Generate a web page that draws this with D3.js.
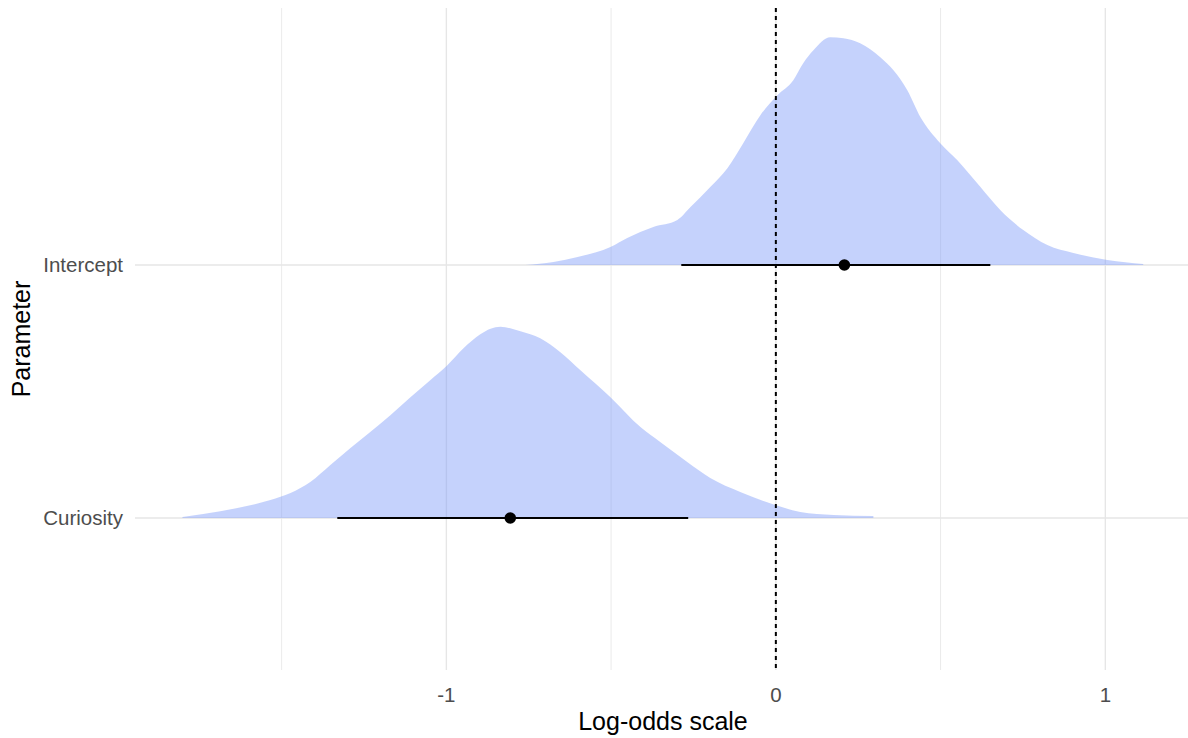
<!DOCTYPE html>
<meta charset="utf-8">
<html>
    <head>
        <style>
            html, body {
                margin: 0;
                padding: 0;
                background: #fff;
            }

            svg {
                display: block;
                font-family: "Liberation Sans", Arial, sans-serif;
            }

            .grid-major {
                stroke: #e6e6e6;
                stroke-width: 1.4;
            }

            .grid-minor {
                stroke: #e8e8e8;
                stroke-width: 0.9;
            }

            .tick-label {
                fill: #4d4d4d;
                font-size: 20.5px;
            }

            .axis-title {
                fill: #000;
                font-size: 25px;
            }

            .density {
                fill: #7f9cf9;
                fill-opacity: 0.45;
            }
        </style>
    </head>
    <body>
        <svg width="1188" height="738"></svg>

        <script src="https://cdn.jsdelivr.net/npm/d3@7"></script>
        <script>
            // parameters, bottom to top
            var params = ['Curiosity', 'Intercept'];

            // posterior densities
            var interceptX = [-0.760, -0.675, -0.602, -0.502, -0.451, -0.372, -0.299, -0.259, -0.199, -0.147,
                -0.099, -0.047, 0.005, 0.053, 0.083, 0.114, 0.165, 0.205, 0.256, 0.317,
                0.357, 0.399, 0.439, 0.499, 0.551, 0.621, 0.681, 0.751, 0.824, 0.903,
                1.006, 1.115];
            var interceptDens = [0.0, 0.015, 0.04, 0.09, 0.135, 0.19, 0.225, 0.29, 0.39, 0.485,
                0.61, 0.75, 0.85, 0.925, 1.01, 1.075, 1.14, 1.135, 1.11, 1.04,
                0.975, 0.875, 0.74, 0.61, 0.525, 0.39, 0.275, 0.175, 0.10, 0.06,
                0.025, 0.005];

            var curiosityX = [-1.801, -1.738, -1.634, -1.534, -1.473, -1.413, -1.352, -1.291, -1.231, -1.170,
                -1.109, -1.049, -0.997, -0.948, -0.897, -0.866, -0.836, -0.806, -0.775, -0.715,
                -0.654, -0.593, -0.502, -0.411, -0.351, -0.269, -0.199, -0.108, -0.002, 0.074,
                0.175, 0.296];
            var curiosityDens = [0.005, 0.02, 0.05, 0.09, 0.125, 0.18, 0.265, 0.35, 0.43, 0.515,
                0.605, 0.69, 0.765, 0.85, 0.92, 0.948, 0.958, 0.95, 0.935, 0.90,
                0.83, 0.74, 0.605, 0.455, 0.38, 0.28, 0.20, 0.13, 0.065, 0.03,
                0.015, 0.01];

            // median and 95% interval, same order as params
            var medians = [-0.806, 0.208];
            var lower = [-1.331, -0.287];
            var upper = [-0.266, 0.651];

            var xTicks = [-1, 0, 1];
            var xMinor = [-1.5, -0.5, 0.5];

            var svg = d3.select('svg'),
                width = +svg.attr('width'),
                height = +svg.attr('height');

            var panel = {left: 135, right: 1191, top: 8, bottom: 670};

            var x = d3.scaleLinear()
                .domain([-1.945, 1.26])
                .range([panel.left, panel.right]);

            var y = d3.scalePoint()
                .domain(params)
                .range([518, 265]);

            var step = y('Curiosity') - y('Intercept');

            var dens = d3.scaleLinear()
                .domain([0, d3.max(interceptDens.concat(curiosityDens))])
                .range([0, 0.9 * step]);

            var grid = svg.append('g');

            grid.selectAll('.grid-minor')
                .data(xMinor)
                .enter()
                    .append('line')
                    .classed('grid-minor', true)
                    .attr('x1', function (d) { return x(d); })
                    .attr('x2', function (d) { return x(d); })
                    .attr('y1', panel.top)
                    .attr('y2', panel.bottom);

            grid.selectAll('.grid-major-x')
                .data(xTicks)
                .enter()
                    .append('line')
                    .attr('class', 'grid-major grid-major-x')
                    .attr('x1', function (d) { return x(d); })
                    .attr('x2', function (d) { return x(d); })
                    .attr('y1', panel.top)
                    .attr('y2', panel.bottom);

            grid.selectAll('.grid-major-y')
                .data(params)
                .enter()
                    .append('line')
                    .attr('class', 'grid-major grid-major-y')
                    .attr('x1', panel.left)
                    .attr('x2', panel.right)
                    .attr('y1', function (d) { return y(d); })
                    .attr('y2', function (d) { return y(d); });

            var series = [
                {param: 'Curiosity', xs: curiosityX, ds: curiosityDens},
                {param: 'Intercept', xs: interceptX, ds: interceptDens}
            ];

            svg.append('g').selectAll('path')
                .data(series)
                .enter()
                    .append('path')
                    .classed('density', true)
                    .attr('d', function (s) {
                        var base = y(s.param);
                        var pts = s.xs.map(function (v, i) { return [v, s.ds[i]]; });
                        return d3.area()
                            .x(function (p) { return x(p[0]); })
                            .y0(base)
                            .y1(function (p) { return base - dens(p[1]); })
                            .curve(d3.curveMonotoneX)(pts);
                    });

            // reference line at zero
            svg.append('line')
                .attr('x1', x(0))
                .attr('x2', x(0))
                .attr('y1', panel.top)
                .attr('y2', panel.bottom)
                .attr('stroke', '#000')
                .attr('stroke-width', 2)
                .attr('stroke-dasharray', '4,4');

            var intervals = svg.append('g').selectAll('g')
                .data(params)
                .enter()
                    .append('g');

            intervals.append('line')
                .attr('x1', function (d, i) { return x(lower[i]); })
                .attr('x2', function (d, i) { return x(upper[i]); })
                .attr('y1', function (d) { return y(d); })
                .attr('y2', function (d) { return y(d); })
                .attr('stroke', '#000')
                .attr('stroke-width', 1.8);

            intervals.append('circle')
                .attr('cx', function (d, i) { return x(medians[i]); })
                .attr('cy', function (d) { return y(d); })
                .attr('r', 5.8)
                .attr('fill', '#000');

            // axis labels
            svg.append('g').selectAll('text')
                .data(xTicks)
                .enter()
                    .append('text')
                    .classed('tick-label', true)
                    .attr('x', function (d) { return x(d); })
                    .attr('y', 702)
                    .attr('text-anchor', 'middle')
                    .text(function (d) { return d; });

            svg.append('g').selectAll('text')
                .data(params)
                .enter()
                    .append('text')
                    .classed('tick-label', true)
                    .attr('x', 123)
                    .attr('y', function (d) { return y(d); })
                    .attr('dy', '0.36em')
                    .attr('text-anchor', 'end')
                    .text(function (d) { return d; });

            svg.append('text')
                .classed('axis-title', true)
                .attr('x', (panel.left + panel.right) / 2)
                .attr('y', 730)
                .attr('text-anchor', 'middle')
                .text('Log-odds scale');

            svg.append('text')
                .classed('axis-title', true)
                .attr('transform', 'translate(30,' + (panel.top + panel.bottom) / 2 + ') rotate(-90)')
                .attr('text-anchor', 'middle')
                .text('Parameter');
        </script>
    </body>
</html>
